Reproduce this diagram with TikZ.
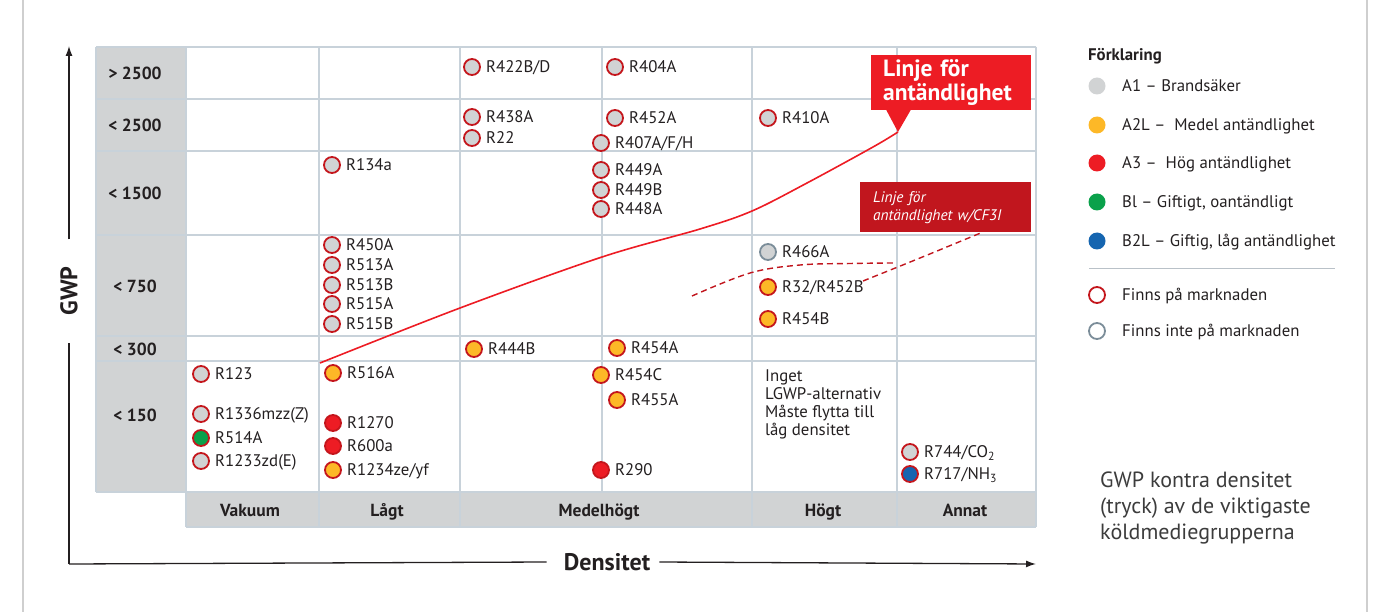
\documentclass[tikz,border=0pt]{standalone}
\usepackage{fontspec}
\setmainfont{PT Sans}
\usetikzlibrary{arrows.meta}

\definecolor{ink}{HTML}{231F20}
\definecolor{gridc}{HTML}{C8D2DA}
\definecolor{panel}{HTML}{D1D3D4}
\definecolor{frame}{HTML}{CFCFCF}
\definecolor{ringred}{HTML}{C4161C}
\definecolor{ringgray}{HTML}{7B8D99}
\definecolor{a1}{HTML}{D1D3D4}
\definecolor{a2l}{HTML}{FDB827}
\definecolor{a3}{HTML}{ED1C24}
\definecolor{bl}{HTML}{0AA14B}
\definecolor{b2l}{HTML}{1565B0}
\definecolor{calloutred}{HTML}{ED1C24}
\definecolor{calloutdark}{HTML}{C1161E}
\definecolor{caption}{HTML}{3C3C3C}

% one refrigerant: marker plus its name to the right
\newcommand\refrig[5]{%
  \node[#4] (#1) at (#2,#3) {};
  \node[lbl] (#1-t) at ([xshift=5pt]#1.east) {#5};}
% one legend entry
\newcommand\legitem[4]{%
  \node[#3] (#1) at (1097,#2) {};
  \node[lbl] (#1-t) at (1122,#2) {#4};}

\begin{document}
\begin{tikzpicture}[x=1pt,y=-1pt,
  gridline/.style={draw=gridc, line width=1.1pt},
  dot/.style={circle, minimum size=16pt, inner sep=0pt, line width=1.8pt, draw=ringred, fill=a1},
  a1dot/.style={dot},
  a2dot/.style={dot, fill=a2l},
  a3dot/.style={dot, fill=a3},
  bldot/.style={dot, fill=bl},
  b2dot/.style={dot, fill=b2l},
  offdot/.style={dot, draw=ringgray},
  swatch/.style={circle, minimum size=17pt, inner sep=0pt, draw=none},
  ring/.style={circle, minimum size=16pt, inner sep=0pt, line width=1.8pt, fill=white},
  lbl/.style={anchor=west, inner sep=0pt, text height=11.6pt, text depth=0pt,
              font=\fontsize{16.8}{19}\selectfont, text=ink},
  rowlbl/.style={font=\fontsize{17.5}{20}\selectfont\bfseries, text=ink, inner sep=0pt,
                 text height=12.2pt, text depth=0pt},
  collbl/.style={font=\fontsize{17.5}{20}\selectfont\bfseries, text=ink, inner sep=0pt,
                 text height=12.2pt, text depth=0pt},
  axislbl/.style={font=\fontsize{24}{28}\selectfont\bfseries, text=ink, inner sep=0pt},
  axisline/.style={draw=ink, line width=1.3pt},
  flamline/.style={draw=a3, line width=1.6pt},
  cf3iline/.style={draw=calloutdark, line width=1.4pt, dash pattern=on 6pt off 4pt},
]
\useasboundingbox (0,0) rectangle (1373,612);

% page frame rules
\draw[frame, line width=2pt] (23,0) -- (23,612);
\draw[frame, line width=2pt] (1367,0) -- (1367,612);

% shaded header column and row
\fill[panel] (96,47) rectangle (186,492);
\fill[panel] (186,492) rectangle (1036,527);

% grid
\foreach \y in {47,99,151,235,336,361,492}
  \draw[gridline] (96,\y) -- (1036,\y);
\draw[gridline] (186,527) -- (1036,527);
\draw[gridline] (96,47) -- (96,492);
\draw[gridline] (602,47) -- (602,492);
\foreach \x in {186,319,460,752,897,1036}
  \draw[gridline] (\x,47) -- (\x,527);

% GWP classes
\node[rowlbl] (g1) at (135,73)  {> 2500};
\node[rowlbl] (g2) at (135,125) {< 2500};
\node[rowlbl] (g3) at (135,193) {< 1500};
\node[rowlbl] (g4) at (135,286) {< 750};
\node[rowlbl] (g5) at (135,349) {< 300};
\node[rowlbl] (g6) at (135,415) {< 150};

% density classes
\node[collbl] (d1) at (250,510) {Vakuum};
\node[collbl] (d2) at (387,510) {Lågt};
\node[collbl] (d3) at (599,510) {Medelhögt};
\node[collbl] (d4) at (823,510) {Högt};
\node[collbl] (d5) at (965,510) {Annat};

% axes
\node[axislbl, rotate=90] (gwp) at (69,291) {GWP};
\node[axislbl] (dens) at (607,562) {Densitet};
\coordinate (origin) at (69,564);
\coordinate (ytop) at (69,46);
\coordinate (xend) at (1036,564);
\draw[axisline] (origin) -- ([xshift=-17pt]dens.west);
\draw[axisline, -{Latex[length=10pt,width=7pt]}] ([xshift=9pt]dens.east) -- (xend);
\draw[axisline] (origin) -- ([yshift=-27pt]gwp.west);
\draw[axisline, -{Latex[length=10pt,width=7pt]}] ([yshift=27pt]gwp.east) -- (ytop);

% flammability line and its callout
\node[fill=calloutred, text=white, anchor=north west, align=left,
      inner xsep=12pt, inner ysep=0pt,
      minimum width=160pt, minimum height=55pt, text width=136pt,
      font=\fontsize{23.5}{24.5}\selectfont\bfseries] (flamlbl) at (871,55)
      {Linje för\\antändlighet};
\coordinate (flamtip) at (898,132);
\fill[calloutred] (886,109.5) -- (flamtip) -- (911,109.5) -- cycle;
\coordinate (flamstart) at (320,363);
\draw[flamline] plot[smooth, tension=0.55] coordinates
  {(flamstart) (460,308) (602,257) (700,229) (752,211) (807,183) (873,147) (flamtip)};

% flammability line with CF3I
\node[fill=calloutdark, text=white, anchor=north west, align=left,
      inner xsep=13pt, inner ysep=0pt,
      minimum width=171pt, minimum height=50pt, text width=145pt,
      font=\fontsize{15.3}{18}\selectfont\itshape] (cf3ilbl) at (860,182)
      {Linje för\\antändlighet w/CF3I};
\coordinate (cf3istart) at (692,296);
\coordinate (cf3iend) at (893,263);
\draw[cf3iline] plot[smooth, tension=0.6] coordinates
  {(cf3istart) (750,273) (800,265) (850,263.5) (cf3iend)};
\coordinate (cf3ifoot) at (983,232);
\draw[cf3iline] plot[smooth, tension=0.6] coordinates
  {(863,281) (920,258) (cf3ifoot)};

% refrigerants, GWP > 2500
\refrig{r422}{472}{67}{a1dot}{R422B/D}
\refrig{r404}{615}{67}{a1dot}{R404A}
% GWP < 2500
\refrig{r438}{472}{117}{a1dot}{R438A}
\refrig{r22}{472}{138}{a1dot}{R22}
\refrig{r452a}{615}{118}{a1dot}{R452A}
\refrig{r407}{601}{143}{a1dot}{R407A/F/H}
\refrig{r410}{768}{118}{a1dot}{R410A}
% GWP < 1500
\refrig{r134}{332}{165}{a1dot}{R134a}
\refrig{r449a}{601}{170}{a1dot}{R449A}
\refrig{r449b}{601}{190}{a1dot}{R449B}
\refrig{r448}{601}{209}{a1dot}{R448A}
% GWP < 750
\refrig{r450}{332}{245}{a1dot}{R450A}
\refrig{r513a}{332}{265}{a1dot}{R513A}
\refrig{r513b}{332}{285}{a1dot}{R513B}
\refrig{r515a}{332}{304}{a1dot}{R515A}
\refrig{r515b}{332}{324}{a1dot}{R515B}
\refrig{r466}{768}{252}{offdot}{R466A}
\refrig{r32}{768}{287}{a2dot}{R32/R452B}
\refrig{r454b}{768}{319}{a2dot}{R454B}
% GWP < 300
\refrig{r444}{474}{349}{a2dot}{R444B}
\refrig{r454a}{617}{348}{a2dot}{R454A}
% GWP < 150
\refrig{r123}{201}{374}{a1dot}{R123}
\refrig{r1336}{201}{414}{a1dot}{R1336mzz(Z)}
\refrig{r514}{201}{438}{bldot}{R514A}
\refrig{r1233}{201}{461}{a1dot}{R1233zd(E)}
\refrig{r516}{333}{373}{a2dot}{R516A}
\refrig{r1270}{333}{423}{a3dot}{R1270}
\refrig{r600}{333}{446}{a3dot}{R600a}
\refrig{r1234}{333}{470}{a2dot}{R1234ze/yf}
\refrig{r454c}{601}{375}{a2dot}{R454C}
\refrig{r455}{617}{400}{a2dot}{R455A}
\refrig{r290}{601}{470}{a3dot}{R290}
\refrig{r744}{910}{452}{a1dot}{R744/CO\textsubscript{2}}
\refrig{r717}{910}{474}{b2dot}{R717/NH\textsubscript{3}}

\node[anchor=north west, align=left, inner sep=0pt, text=ink,
      font=\fontsize{16.8}{17.7}\selectfont] (nolgwp) at (765,370)
      {Inget\\LGWP-alternativ\\Måste flytta till\\låg densitet};

% legend
\node[anchor=west, inner sep=0pt, text=ink, font=\fontsize{16.8}{19}\selectfont\bfseries]
      (legtitle) at (1088,56) {Förklaring};
\legitem{lg1}{86}{swatch, fill=a1}{A1 – Brandsäker}
\legitem{lg2}{125}{swatch, fill=a2l}{A2L –\ \ Medel antändlighet}
\legitem{lg3}{163}{swatch, fill=a3}{A3 –\ \ Hög antändlighet}
\legitem{lg4}{202}{swatch, fill=bl}{Bl – Giftigt, oantändligt}
\legitem{lg5}{241}{swatch, fill=b2l}{B2L – Giftig, låg antändlighet}
\coordinate (sepl) at (1089,269);
\coordinate (sepr) at (1335,269);
\draw[draw=gridc!80!gray, line width=1pt] (sepl) -- (sepr);
\legitem{lg6}{295}{ring, draw=ringred}{Finns på marknaden}
\legitem{lg7}{331}{ring, draw=ringgray}{Finns inte på marknaden}

% caption
\node[anchor=north west, align=left, inner sep=0pt, text=caption,
      font=\fontsize{22}{26}\selectfont] (capt) at (1100,472)
      {GWP kontra densitet\\(tryck) av de viktigaste\\köldmediegrupperna};
\end{tikzpicture}
\end{document}
